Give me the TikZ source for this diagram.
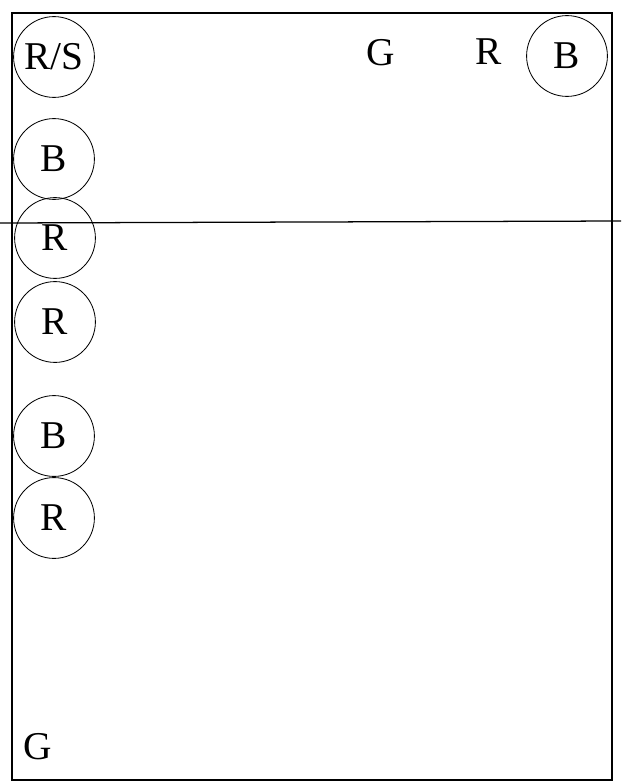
\documentclass[tikz,border=0pt]{standalone}
\usepackage{fontspec}
\setmainfont{Liberation Serif}
\usetikzlibrary{positioning}

\begin{document}
\begin{tikzpicture}[x=0.025cm, y=-0.025cm,
    token/.style={circle, draw=black, line width=0.6pt, minimum size=2.02cm,
                  inner sep=0pt, font=\fontsize{28}{30}\selectfont},
    lbl/.style={inner sep=0pt, font=\fontsize{28}{30}\selectfont},
    edge/.style={line width=0.9pt, black}
]
    \useasboundingbox (0,0) rectangle (621,783);

    % board outline
    \draw[edge] (12,13) rectangle (612,780);

    % cut line across the board
    \coordinate (cutL) at (0,223);
    \coordinate (cutR) at (621,221);
    \draw[edge] (cutL) -- (cutR);

    % left column of pieces
    \node[token] (rs) at (54,57) {R/S};
    \node[token] (b1) at (54,159) {B};
    \node[token] (r1) at (55,238) {R};
    \node[token] (r2) at (55,322) {R};
    \node[token] (b2) at (54,436) {B};
    \node[token] (r3) at (54,518) {R};

    % top row
    \node[lbl] (g1) at (381,53) {G};
    \node[lbl] (r4) at (489,52) {R};
    \node[token] (b3) at (567,56) {B};

    % bottom corner
    \node[lbl] (g2) at (38,747) {G};
\end{tikzpicture}
\end{document}
